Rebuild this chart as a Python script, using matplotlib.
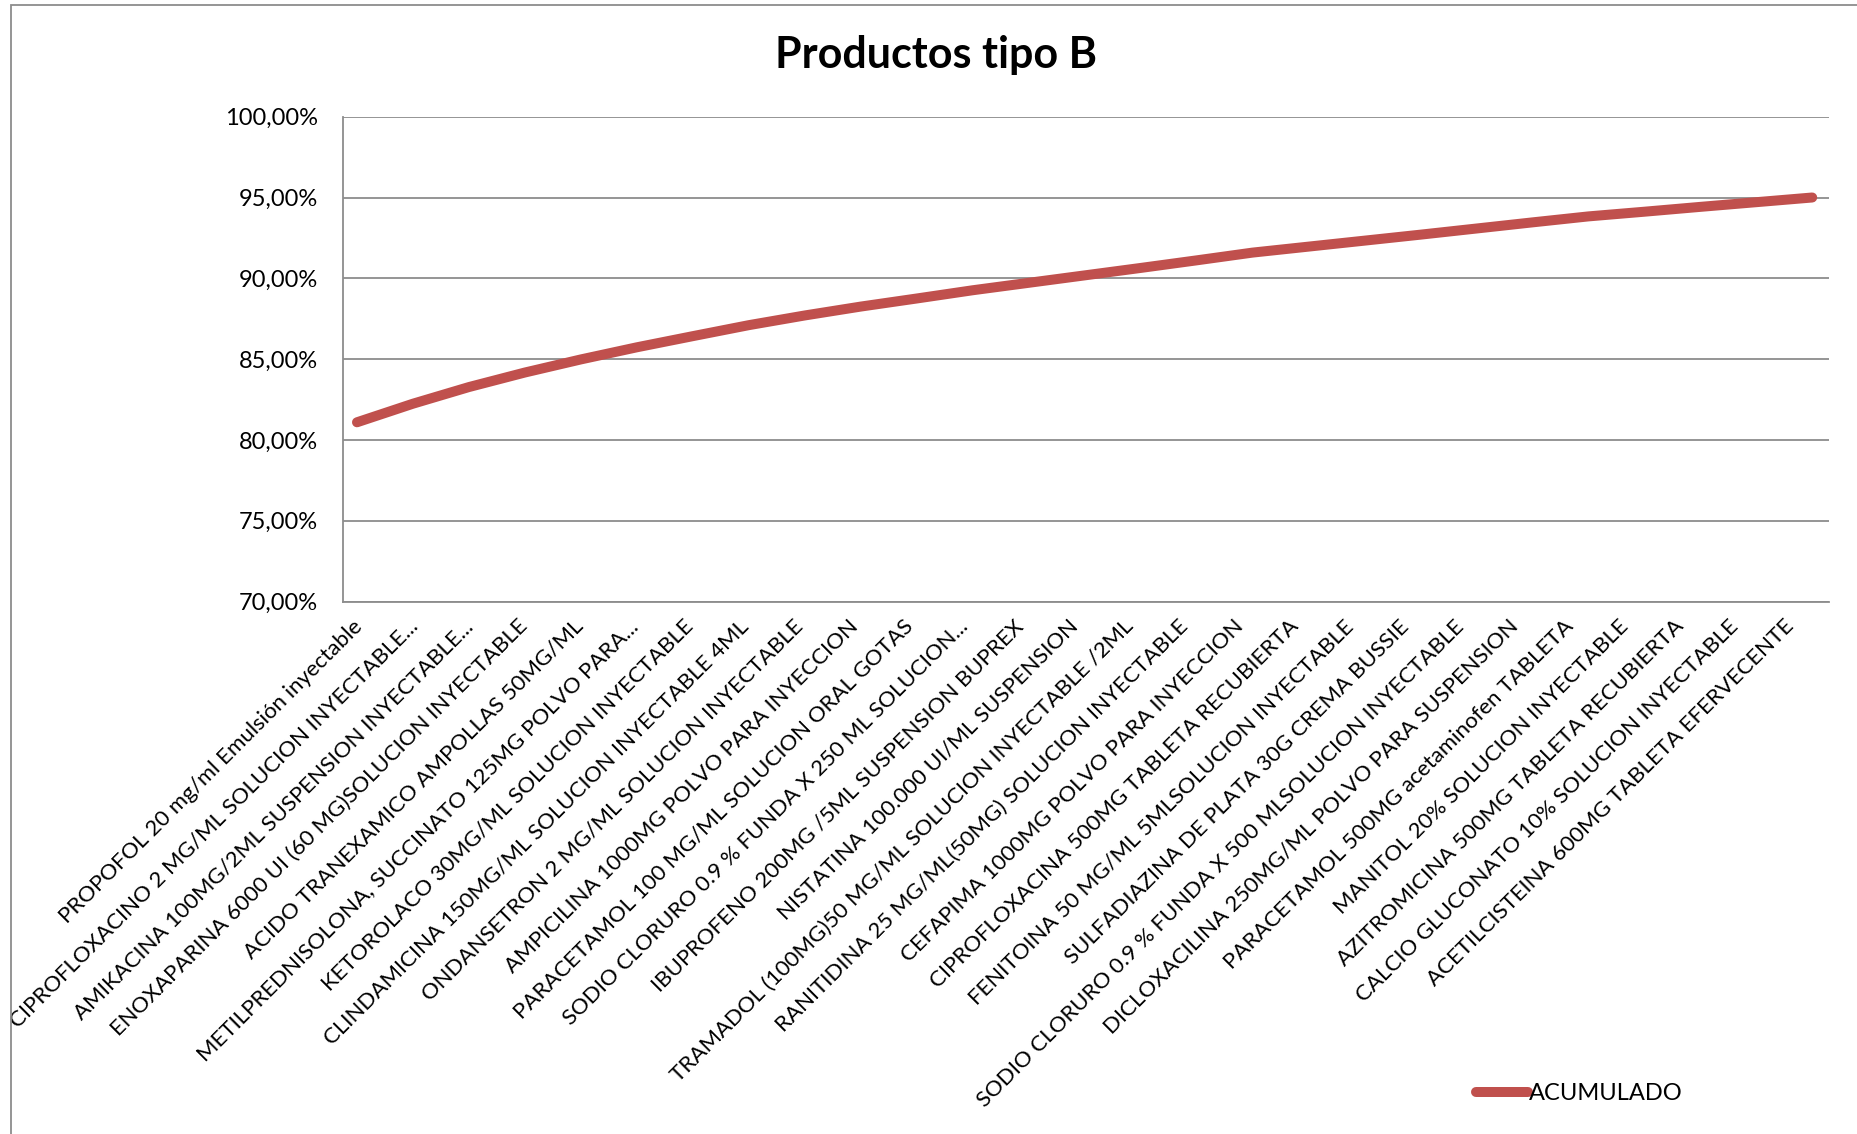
import matplotlib
matplotlib.use("Agg")
import matplotlib.pyplot as plt
from matplotlib.patches import Rectangle
from matplotlib.ticker import FuncFormatter, FixedLocator
from matplotlib.transforms import ScaledTranslation

plt.rcParams['font.family'] = ['Lato', 'DejaVu Sans']

title = "Productos tipo B"
series_name = "ACUMULADO"

categories = [
    "PROPOFOL 20 mg/ml Emulsión inyectable",
    "CIPROFLOXACINO 2 MG/ML SOLUCION INYECTABLE...",
    "AMIKACINA 100MG/2ML SUSPENSION INYECTABLE...",
    "ENOXAPARINA 6000 UI (60 MG)SOLUCION INYECTABLE",
    "ACIDO TRANEXAMICO AMPOLLAS 50MG/ML",
    "METILPREDNISOLONA, SUCCINATO 125MG POLVO PARA...",
    "KETOROLACO 30MG/ML SOLUCION INYECTABLE",
    "CLINDAMICINA 150MG/ML SOLUCION INYECTABLE 4ML",
    "ONDANSETRON 2 MG/ML SOLUCION INYECTABLE",
    "AMPICILINA 1000MG POLVO PARA INYECCION",
    "PARACETAMOL 100 MG/ML SOLUCION ORAL GOTAS",
    "SODIO CLORURO 0.9 % FUNDA X 250 ML SOLUCION...",
    "IBUPROFENO 200MG /5ML SUSPENSION BUPREX",
    "NISTATINA 100.000 UI/ML SUSPENSION",
    "TRAMADOL (100MG)50 MG/ML SOLUCION INYECTABLE /2ML",
    "RANITIDINA 25 MG/ML(50MG) SOLUCION INYECTABLE",
    "CEFAPIMA 1000MG POLVO PARA INYECCION",
    "CIPROFLOXACINA 500MG TABLETA RECUBIERTA",
    "FENITOINA 50 MG/ML 5MLSOLUCION INYECTABLE",
    "SULFADIAZINA DE PLATA 30G CREMA BUSSIE",
    "SODIO CLORURO 0.9 % FUNDA X 500 MLSOLUCION INYECTABLE",
    "DICLOXACILINA 250MG/ML POLVO PARA SUSPENSION",
    "PARACETAMOL 500MG acetaminofen TABLETA",
    "MANITOL 20% SOLUCION INYECTABLE",
    "AZITROMICINA 500MG TABLETA RECUBIERTA",
    "CALCIO GLUCONATO 10% SOLUCION INYECTABLE",
    "ACETILCISTEINA 600MG TABLETA EFERVECENTE",
]

acumulado = [81.09, 82.24, 83.27, 84.17, 84.98, 85.73, 86.42, 87.10, 87.70,
             88.25, 88.75, 89.26, 89.72, 90.18, 90.64, 91.11, 91.59, 91.96,
             92.33, 92.70, 93.08, 93.46, 93.83, 94.12, 94.42, 94.71, 95.00]

y_ticks = [70, 75, 80, 85, 90, 95, 100]

W, H = 1858, 1134
fig = plt.figure(figsize=(W / 100, H / 100), dpi=100)
fig.patch.set_facecolor('white')

# chart-area border
fig.add_artist(Rectangle((11 / W, -0.05), 1.2, 1 - 5 / H + 0.05,
                         transform=fig.transFigure, fill=False,
                         edgecolor='#8c8c8c', linewidth=1.3))

left, right = 343 / W, 1829 / W
top, bottom = 1 - 116.7 / H, 1 - 601.5 / H
ax = fig.add_axes([left, bottom, right - left, top - bottom])

x = list(range(len(categories)))

# primary category axis (labels, between tick marks)
ax.set_xlim(-0.5, len(categories) - 0.5)
ax.set_ylim(70, 100)
ax.yaxis.set_major_locator(FixedLocator(y_ticks))
ax.yaxis.set_major_formatter(FuncFormatter(lambda v, p: f"{v:.2f}".replace('.', ',') + "%"))
ax.grid(axis='y', color='#8c8c8c', linewidth=1.3)
ax.set_axisbelow(True)
for s in ['top', 'right']:
    ax.spines[s].set_visible(False)
for s in ['left', 'bottom']:
    ax.spines[s].set_color('#8c8c8c')
    ax.spines[s].set_linewidth(1.3)
ax.tick_params(axis='y', length=0, pad=18, labelsize=17, labelcolor='black')
ax.set_xticks(x)
ax.set_xticklabels(categories, rotation=45, ha='right', va='top',
                   rotation_mode='anchor', fontsize=16)
ax.tick_params(axis='x', length=0, pad=12)
shift = ScaledTranslation(-0.18, 0.02, fig.dpi_scale_trans)
for lab in ax.get_xticklabels():
    lab.set_transform(lab.get_transform() + shift)

# secondary category axis for the cumulative line
ax2 = ax.twiny()
ax2.set_xlim(-0.25, len(categories) - 1 + 0.3)
ax2.set_xticks([])
for s in ax2.spines.values():
    s.set_visible(False)
line, = ax2.plot(x, acumulado, color='#C0504D', linewidth=7.2,
                 solid_capstyle='round', solid_joinstyle='round',
                 label=series_name, zorder=3)

fig.text(936 / W, 1 - 55 / H, title, ha='center', va='center',
         fontsize=31, fontweight='bold')

fig.legend(handles=[line], loc='center', bbox_to_anchor=(1579 / W, 1 - 1094 / H),
           frameon=False, fontsize=17, handlelength=2.2, handletextpad=0.05)

fig.savefig('out.png', dpi=100, facecolor='white')
